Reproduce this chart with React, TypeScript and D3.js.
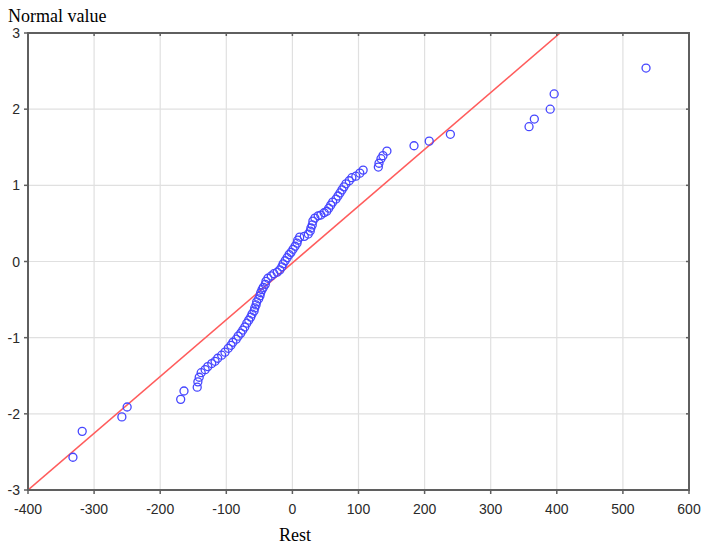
import React from "react";
import * as d3 from "d3";

const restValues = [
  -332, -318, -258, -250, -169, -164, -144, -143, -141, -138, -132, -128, -122, -117, -113, -107, -102, -97, -93, -90,
  -85, -82, -78, -75, -72, -69, -66, -63, -61, -58, -57, -55, -54, -51, -49, -48, -46, -44, -41, -40,
  -37, -32, -28, -23, -19, -16, -14, -11, -8, -5, -2, 1, 4, 7, 8, 11, 18, 24, 27, 28,
  30, 31, 34, 39, 43, 48, 52, 55, 58, 61, 66, 69, 72, 75, 78, 81, 86, 90, 96, 102,
  107, 130, 131, 134, 137, 143, 184, 207, 239, 358, 366, 390, 396, 535,
];
const normalValues = [
  -2.57, -2.23, -2.04, -1.91, -1.81, -1.7, -1.65, -1.58, -1.52, -1.46, -1.42, -1.38, -1.34, -1.31, -1.27, -1.23, -1.19, -1.14, -1.1, -1.06,
  -1.02, -0.98, -0.94, -0.9, -0.86, -0.81, -0.77, -0.73, -0.69, -0.65, -0.61, -0.57, -0.53, -0.49, -0.45, -0.41, -0.37, -0.34, -0.3, -0.26,
  -0.22, -0.19, -0.16, -0.14, -0.11, -0.07, -0.03, 0.01, 0.05, 0.09, 0.12, 0.16, 0.2, 0.24, 0.28, 0.32, 0.33, 0.36, 0.4, 0.44,
  0.48, 0.53, 0.57, 0.6, 0.61, 0.64, 0.66, 0.7, 0.74, 0.78, 0.82, 0.86, 0.9, 0.94, 0.98, 1.02, 1.06, 1.1, 1.12, 1.16,
  1.2, 1.24, 1.29, 1.35, 1.39, 1.45, 1.52, 1.58, 1.67, 1.77, 1.87, 2.0, 2.2, 2.54,
];
const refLineX = [-400, 405];
const refLineY = [-3, 3];
const xTicks = [-400, -300, -200, -100, 0, 100, 200, 300, 400, 500, 600];
const yTicks = [-3, -2, -1, 0, 1, 2, 3];

export default function App() {
  const W = 702, H = 547;
  const L = 28, R = 689, T = 33, B = 490;
  const x = d3.scaleLinear().domain([-400, 600]).range([L, R]);
  const y = d3.scaleLinear().domain([-3, 3]).range([B, T]);
  const line = d3.line<number>().x((d) => x(d)).y((_, i) => y(refLineY[i]));
  const sans = "'Liberation Sans', Arial, sans-serif";
  const serif = "'Liberation Serif', 'Times New Roman', serif";
  return (
    <svg width={W} height={H} style={{ position: "absolute", left: 0, top: 0, background: "#fff" }}>
      <defs>
        <clipPath id="plot">
          <rect x={L} y={T} width={R - L} height={B - T} />
        </clipPath>
      </defs>
      <rect x={0} y={0} width={W} height={H} fill="#fff" />
      {xTicks.slice(1, -1).map((t) => (
        <line key={"gx" + t} x1={x(t)} x2={x(t)} y1={T} y2={B} stroke="#e0e0e0" strokeWidth={1.2} />
      ))}
      {yTicks.slice(1, -1).map((t) => (
        <line key={"gy" + t} x1={L} x2={R} y1={y(t)} y2={y(t)} stroke="#e0e0e0" strokeWidth={1.2} />
      ))}
      <g clipPath="url(#plot)">
        <path d={line(refLineX) || ""} fill="none" stroke="#ff5c5c" strokeWidth={1.6} />
      </g>
      {restValues.map((v, i) => (
        <circle key={i} cx={x(v)} cy={y(normalValues[i])} r={4} fill="none" stroke="#4646ff" strokeWidth={1.3} />
      ))}
      <rect x={L} y={T} width={R - L} height={B - T} fill="none" stroke="#5f5f5f" strokeWidth={2} />
      {xTicks.map((t) => (
        <g key={"xt" + t}>
          <line x1={x(t)} x2={x(t)} y1={B} y2={B + 4} stroke="#5f5f5f" strokeWidth={1.5} />
          <line x1={x(t)} x2={x(t)} y1={T} y2={T + 3} stroke="#5f5f5f" strokeWidth={1.5} />
          <text x={x(t)} y={B + 24} textAnchor="middle" fontFamily={sans} fontSize={14} fill="#2a2a2a">
            {t}
          </text>
        </g>
      ))}
      {yTicks.map((t) => (
        <g key={"yt" + t}>
          <line x1={L - 4} x2={L} y1={y(t)} y2={y(t)} stroke="#5f5f5f" strokeWidth={1.5} />
          <line x1={R - 3} x2={R} y1={y(t)} y2={y(t)} stroke="#5f5f5f" strokeWidth={1.5} />
          <text x={L - 8} y={y(t) + 5} textAnchor="end" fontFamily={sans} fontSize={14} fill="#2a2a2a">
            {t}
          </text>
        </g>
      ))}
      <text x={8} y={22} fontFamily={serif} fontSize={18} fill="#000">
        Normal value
      </text>
      <text x={295} y={541} textAnchor="middle" fontFamily={serif} fontSize={18} fill="#000">
        Rest
      </text>
    </svg>
  );
}
